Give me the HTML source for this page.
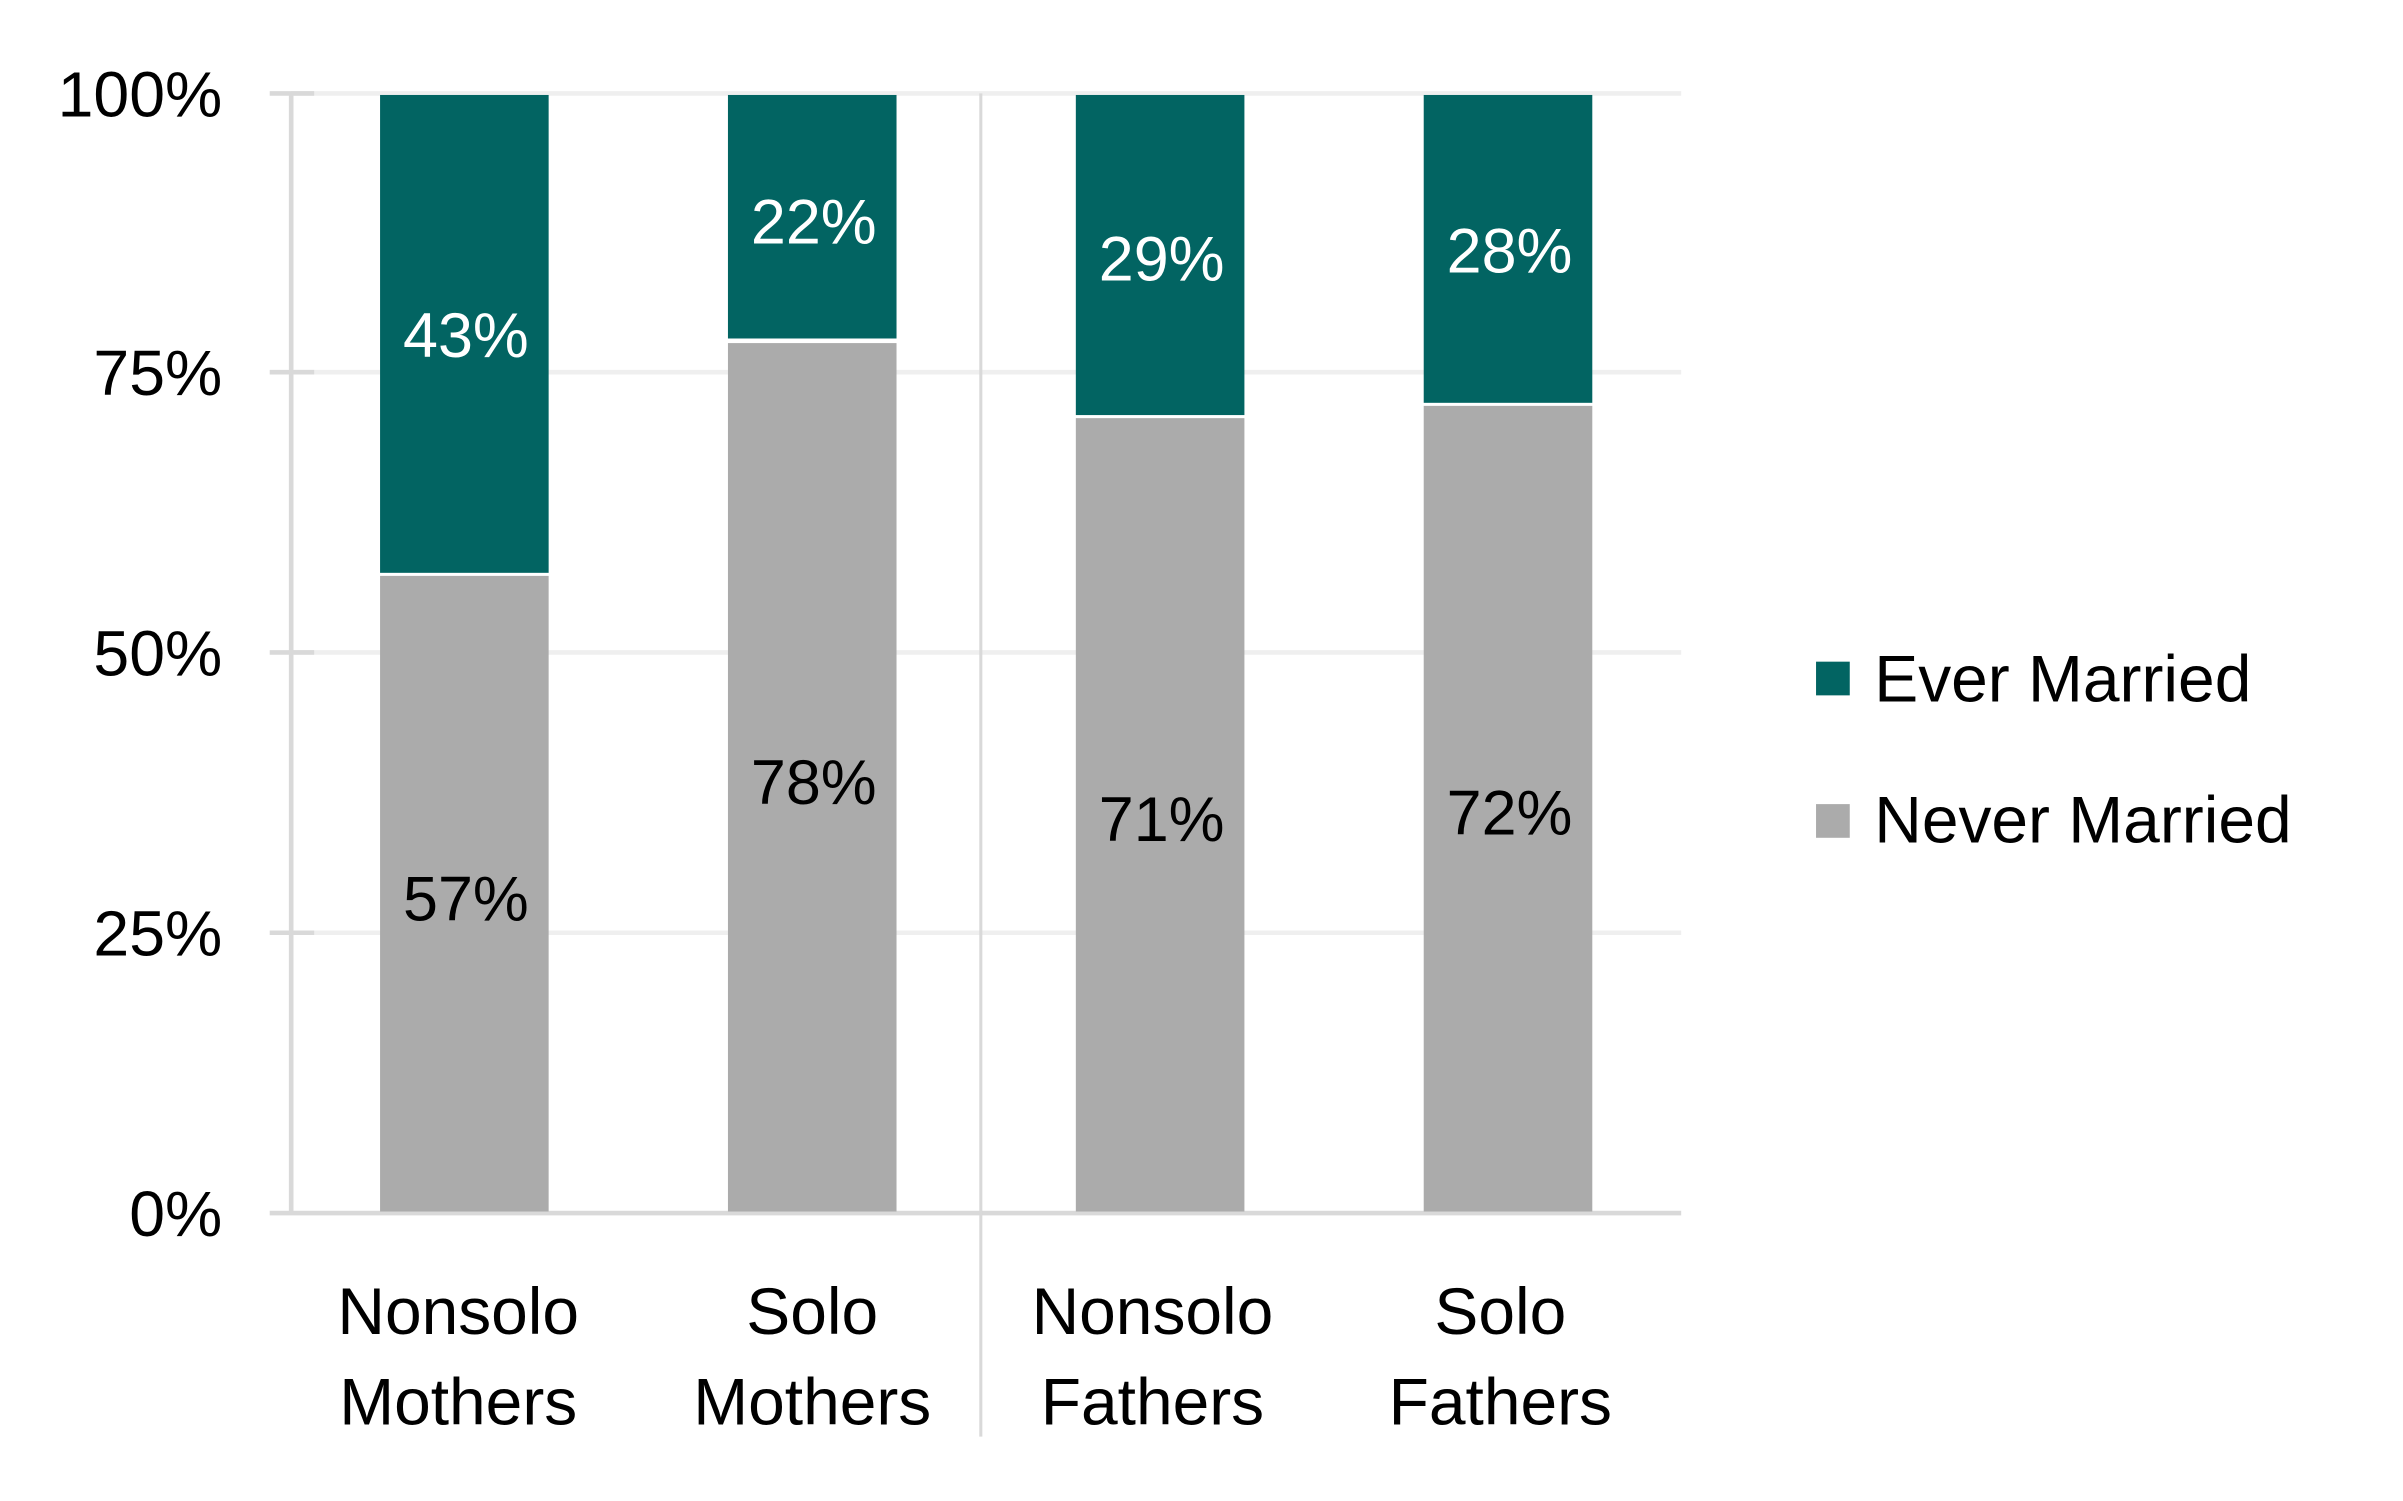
<!DOCTYPE html>
<html><head><meta charset="utf-8"><style>
html,body{margin:0;padding:0;background:#fff;width:2403px;height:1501px;overflow:hidden}
svg{display:block}
text{font-family:"Liberation Sans",sans-serif}
</style></head><body>
<svg width="2403" height="1501" viewBox="0 0 1568 980" preserveAspectRatio="none" xmlns="http://www.w3.org/2000/svg">
<rect width="1568" height="980" fill="#fff"/>
<g stroke="#efefef" stroke-width="3">
<line x1="190" y1="61" x2="1097" y2="61"/>
<line x1="190" y1="243" x2="1097" y2="243"/>
<line x1="190" y1="426" x2="1097" y2="426"/>
<line x1="190" y1="609" x2="1097" y2="609"/>
</g>
<g stroke="#d9d9d9" stroke-width="3">
<line x1="176" y1="61" x2="205" y2="61"/>
<line x1="176" y1="243" x2="205" y2="243"/>
<line x1="176" y1="426" x2="205" y2="426"/>
<line x1="176" y1="609" x2="205" y2="609"/>
<line x1="190" y1="61" x2="190" y2="792"/>
<line x1="176" y1="792" x2="1097" y2="792"/>
<line x1="640" y1="61" x2="640" y2="938" stroke-width="2"/>
</g>
<g fill="#026462">
<rect x="248" y="62" width="110" height="312"/>
<rect x="475" y="62" width="110" height="159"/>
<rect x="702" y="62" width="110" height="209"/>
<rect x="929" y="62" width="110" height="201"/>
</g>
<g fill="#ababab">
<rect x="248" y="376" width="110" height="415"/>
<rect x="475" y="224" width="110" height="567"/>
<rect x="702" y="273" width="110" height="518"/>
<rect x="929" y="265" width="110" height="526"/>
</g>
<g font-size="41" text-anchor="middle" fill="#fff">
<text x="304" y="233">43%</text>
<text x="531" y="159">22%</text>
<text x="758" y="183">29%</text>
<text x="985" y="178">28%</text>
</g>
<g font-size="41" text-anchor="middle" fill="#000">
<text x="304" y="601">57%</text>
<text x="531" y="525">78%</text>
<text x="758" y="549">71%</text>
<text x="985" y="545">72%</text>
</g>
<g font-size="42" text-anchor="end" fill="#000">
<text x="145" y="76">100%</text>
<text x="145" y="258">75%</text>
<text x="145" y="441">50%</text>
<text x="145" y="624">25%</text>
<text x="145" y="807">0%</text>
</g>
<g font-size="43" text-anchor="middle" fill="#000">
<text x="299" y="871">Nonsolo</text><text x="299" y="930">Mothers</text>
<text x="530" y="871">Solo</text><text x="530" y="930">Mothers</text>
<text x="752" y="871">Nonsolo</text><text x="752" y="930">Fathers</text>
<text x="979" y="871">Solo</text><text x="979" y="930">Fathers</text>
</g>
<rect x="1185" y="432" width="22" height="22" fill="#026462"/>
<rect x="1185" y="525" width="22" height="22" fill="#ababab"/>
<g font-size="43" fill="#000">
<text x="1223" y="458">Ever Married</text>
<text x="1223" y="550">Never Married</text>
</g>
</svg>
</body></html>
